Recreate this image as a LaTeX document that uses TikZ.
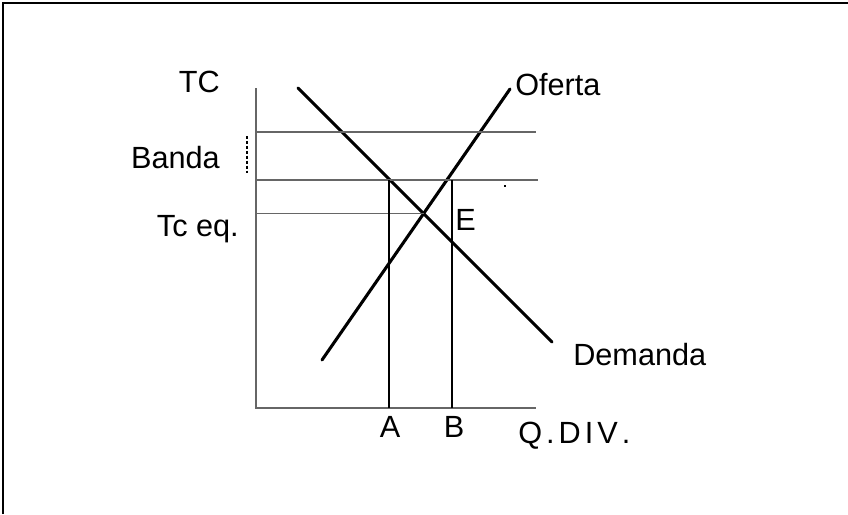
\documentclass[tikz,border=0pt]{standalone}
\usepackage{fontspec}
\setmainfont{Liberation Sans}
\begin{document}
\begin{tikzpicture}[x=0.75pt,y=-0.75pt,
  lbl/.style={inner sep=0pt,font=\fontsize{23}{28}\selectfont},
  curve/.style={line width=2.3pt,line cap=round},
  level/.style={black!60,line width=1pt},
  drop/.style={black,line width=0.8pt}]
\useasboundingbox (0,0) rectangle (848,514);

% Frame
\draw[line width=2.2pt] (3,514) -- (3,3) -- (848,3);

% Axes
\coordinate (o) at (256,408);
\coordinate (ytop) at (256,88);
\coordinate (xend) at (536,408);
\draw[black!60,line width=1pt] (ytop) -- (o) -- (xend);

% Demand and supply
\coordinate (dem1) at (298,88);
\coordinate (dem2) at (552,342);
\coordinate (sup1) at (322,360);
\coordinate (sup2) at (510,89);
\draw[curve] (dem1) -- (dem2);
\draw[curve] (sup1) -- (sup2);
\coordinate (eq) at (intersection of dem1--dem2 and sup1--sup2);

% Band
\coordinate (bandtop) at (536,132);
\coordinate (bandlow) at (538,180);
\draw[level] (ytop |- bandtop) -- (bandtop);
\draw[level] (ytop |- bandlow) -- (bandlow);
\draw[level] (ytop |- eq) -- (eq);
\draw[line width=0.9pt,dash pattern=on 2.2pt off 1.5pt] (247,136) -- (247,174);
\draw[line width=1pt] (504,186) -- (506,186);

% Quantities
\coordinate (qa) at (389,180);
\coordinate (qb) at (452,180);
\draw[drop] (qa) -- (qa |- o);
\draw[drop] (qb) -- (qb |- o);

% Labels
\node[lbl,anchor=base east] (tc) at (220,92) {TC};
\node[lbl,anchor=base east] (banda) at (220,168) {Banda};
\node[lbl,anchor=base east] (tceq) at (239,236) {Tc eq.};
\node[lbl,anchor=base west] (oferta) at (515,95) {Oferta};
\node[lbl,anchor=base west] (demanda) at (573,365) {Demanda};
\node[lbl,anchor=base west] (e) at (455,230) {E};
\node[lbl,anchor=base] (a) at (390,437) {A};
\node[lbl,anchor=base] (b) at (454,437) {B};
\node[lbl,anchor=base west] (qdiv) at (518,443) {Q\kern3pt.\kern3pt D\kern3pt I\kern3pt V\kern3pt.};

\end{tikzpicture}
\end{document}
